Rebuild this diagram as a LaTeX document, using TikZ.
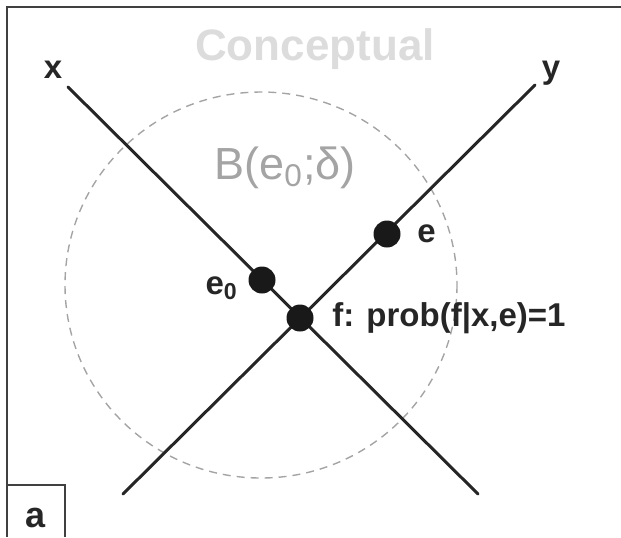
\documentclass[tikz,border=0pt]{standalone}
\usepackage{fontspec}
\setmainfont{Liberation Sans}
\usepackage{tikz}
\usetikzlibrary{positioning}

\definecolor{ballgray}{HTML}{A4A4A4}
\definecolor{titlegray}{HTML}{DCDCDC}

\begin{document}
\begin{tikzpicture}[
    x=0.5pt, y=-0.5pt,
    frame/.style={line width=1pt, draw=black!75},
    axis/.style={line width=1.5pt, draw=black!85, line cap=round},
    ball/.style={line width=0.7pt, draw=ballgray, dash pattern=on 4pt off 3pt},
    point/.style={circle, fill=black!90, inner sep=0pt, minimum size=13.5pt},
    lbl/.style={font=\fontsize{16.5}{18}\selectfont\bfseries, text=black!85, inner sep=0pt},
    node distance=8pt
]
\useasboundingbox (0,0) rectangle (621,537);

% frame and panel tag
\draw[frame] (7,537) -- (7,7) -- (621,7);
\draw[frame] (7,485) -| (65,537);
\node[lbl, font=\fontsize{18}{20}\selectfont\bfseries] (tag) at (36,518) {a};

\node[font=\fontsize{22}{24}\selectfont\bfseries, text=titlegray, anchor=base] (title) at (315,60) {Conceptual};

% ball around e0
\draw[ball] (261,285) ellipse [x radius=196, y radius=193];
\node[font=\fontsize{22.5}{24}\selectfont, text=ballgray, anchor=base] (bl) at (285,179) {B(e\textsubscript{0};δ)};

% the two lines
\coordinate (xtop) at (68,87);
\coordinate (xbot) at (478,494);
\coordinate (ytop) at (535,85);
\coordinate (ybot) at (123,494);
\draw[axis] (xtop) -- (xbot);
\draw[axis] (ytop) -- (ybot);

\node[lbl, anchor=base] (xl) at (53,78) {x};
\node[lbl, anchor=base] (yl) at (551,78) {y};

% points
\node[point] (e0) at (262,280) {};
\node[point] (e)  at (387,234) {};
\node[point] (f)  at (300,318) {};

\node[lbl, left=5pt of e0, yshift=-4pt] (e0l) {e\textsubscript{0}};
\node[lbl, right=8pt of e] (el) {e};
\node[lbl, right=9pt of f] (fl) {f: prob(f|x,e)=1};
\end{tikzpicture}
\end{document}
